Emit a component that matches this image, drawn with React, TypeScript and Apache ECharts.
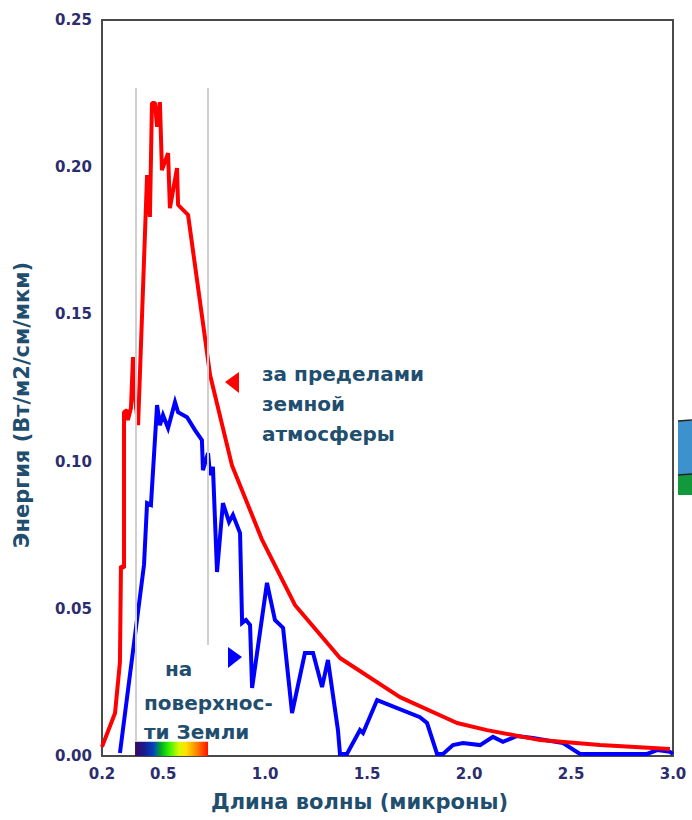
import React, { useEffect, useRef } from "react";
import * as echarts from "echarts";

// ---- Data (wavelength in microns, energy in W/m2/cm/um) ----
const outsideWavelengths = [
  0.2, 0.264, 0.288, 0.293, 0.308, 0.308, 0.323, 0.327, 0.342, 0.352, 0.362, 0.377,
  0.421, 0.435, 0.445, 0.46, 0.47, 0.484, 0.494, 0.524, 0.533, 0.568, 0.573, 0.622,
  0.666, 0.73, 0.837, 0.985, 1.146, 1.367, 1.661, 1.941, 2.088, 2.348, 2.642, 2.985,
];
const outsideValues = [
  0.0031, 0.0146, 0.0319, 0.0645, 0.0639, 0.1168, 0.1175, 0.1141, 0.1182, 0.1355, 0.1216, 0.1124,
  0.1973, 0.1831, 0.2218, 0.2218, 0.2137, 0.2221, 0.199, 0.2048, 0.1861, 0.1997, 0.1872, 0.1838,
  0.1617, 0.1294, 0.0988, 0.0734, 0.0513, 0.0333, 0.02, 0.0112, 0.0088, 0.0054, 0.0037, 0.0024,
];

const surfaceWavelengths = [
  0.288, 0.406, 0.421, 0.44, 0.47, 0.484, 0.499, 0.524, 0.558, 0.573, 0.617, 0.656,
  0.69, 0.695, 0.72, 0.73, 0.744, 0.764, 0.793, 0.823, 0.842, 0.877, 0.887, 0.906,
  0.926, 0.936, 1.009, 1.048, 1.088, 1.132, 1.195, 1.235, 1.279, 1.308, 1.357, 1.367,
  1.401, 1.465, 1.48, 1.549, 1.759, 1.794, 1.843, 1.872, 1.921, 1.97, 2.054, 2.117,
  2.166, 2.235, 2.313, 2.461, 2.544, 2.873, 2.922, 2.985, 3.0,
];
const surfaceValues = [
  0.001, 0.0649, 0.0859, 0.0853, 0.1192, 0.1124, 0.1158, 0.1114, 0.1202, 0.1168, 0.1151, 0.1107,
  0.1073, 0.0971, 0.1029, 0.0954, 0.0982, 0.0625, 0.0859, 0.0795, 0.0819, 0.0757, 0.0452, 0.0462,
  0.0445, 0.0231, 0.0588, 0.0462, 0.0435, 0.0146, 0.035, 0.035, 0.0234, 0.0326, 0.0088, 0.0007,
  0.0007, 0.0088, 0.0078, 0.019, 0.0132, 0.0112, 0.0007, 0.0007, 0.0037, 0.0044, 0.0037, 0.0065,
  0.0048, 0.0068, 0.0061, 0.0044, 0.0007, 0.0007, 0.002, 0.0014, 0.0007,
];

const xTickValues = [0.2, 0.5, 1.0, 1.5, 2.0, 2.5, 3.0];
const yMin = 0;
const yMax = 0.25;
const yInterval = 0.05;

// visible band limits (microns) and guide line extents (energy)
const visibleBand = [0.362, 0.72];
const bandHeight = 0.0048;
const guideLines = [
  { x: 0.367, from: 0.0048, to: 0.2269 },
  { x: 0.72, from: 0.0377, to: 0.2269 },
];

const FONT = '"DejaVu Sans", Verdana, sans-serif';
const LABEL_COLOR = "#2b2d6e";
const NAME_COLOR = "#1f4e6e";

export default function App() {
  const ref = useRef<HTMLDivElement>(null);

  useEffect(() => {
    if (!ref.current) return;
    const chart = echarts.init(ref.current, null, { renderer: "svg" });

    const spectrum = new echarts.graphic.LinearGradient(0, 0, 1, 0, [
      { offset: 0, color: "#3a0860" },
      { offset: 0.12, color: "#1a1a8c" },
      { offset: 0.25, color: "#0040c0" },
      { offset: 0.36, color: "#00b020" },
      { offset: 0.46, color: "#30f000" },
      { offset: 0.6, color: "#d8f800" },
      { offset: 0.7, color: "#ffe000" },
      { offset: 0.85, color: "#ff8000" },
      { offset: 1, color: "#ff1000" },
    ]);

    chart.setOption({
      animation: false,
      grid: {
        left: 102,
        right: 19,
        top: 20,
        bottom: 64,
        show: true,
        borderColor: "#4a4a4a",
        borderWidth: 2,
        backgroundColor: "transparent",
      },
      xAxis: {
        type: "value",
        min: 0.2,
        max: 3.0,
        name: "Длина волны (микроны)",
        nameLocation: "middle",
        nameGap: 35,
        nameTextStyle: {
          color: NAME_COLOR,
          fontFamily: FONT,
          fontWeight: "bold",
          fontSize: 21,
          padding: [0, 56, 0, 0],
        },
        axisLine: { show: false },
        axisTick: { show: false },
        splitLine: { show: false },
        axisLabel: {
          customValues: xTickValues,
          formatter: (v: number) => v.toFixed(1),
          color: LABEL_COLOR,
          fontFamily: FONT,
          fontWeight: "bold",
          fontSize: 15,
          margin: 10,
        },
      },
      yAxis: {
        type: "value",
        min: yMin,
        max: yMax,
        interval: yInterval,
        name: "Энергия (Вт/м2/см/мкм)",
        nameLocation: "middle",
        nameGap: 70,
        nameTextStyle: {
          color: NAME_COLOR,
          fontFamily: FONT,
          fontWeight: "bold",
          fontSize: 21,
          padding: [0, 34, 0, 0],
        },
        axisLine: { show: false },
        axisTick: { show: false },
        splitLine: { show: false },
        axisLabel: {
          formatter: (v: number) => v.toFixed(2),
          color: LABEL_COLOR,
          fontFamily: FONT,
          fontWeight: "bold",
          fontSize: 15,
          margin: 10,
        },
      },
      series: [
        {
          type: "line",
          name: "guides",
          data: [],
          z: 1,
          silent: true,
          markLine: {
            silent: true,
            symbol: "none",
            label: { show: false },
            lineStyle: { color: "#cfcfcf", width: 2, type: "solid" },
            data: guideLines.map((g) => [
              { coord: [g.x, g.to] },
              { coord: [g.x, g.from] },
            ]),
          },
          markArea: {
            silent: true,
            itemStyle: { color: spectrum },
            data: [
              [
                { coord: [visibleBand[0], 0] },
                { coord: [visibleBand[1], bandHeight] },
              ],
            ],
          },
        },
        {
          type: "line",
          name: "на поверхности Земли",
          data: surfaceWavelengths.map((w, i) => [w, surfaceValues[i]]),
          showSymbol: false,
          symbol: "none",
          z: 3,
          lineStyle: { color: "#0000ff", width: 4, join: "miter" },
        },
        {
          type: "line",
          name: "за пределами земной атмосферы",
          data: outsideWavelengths.map((w, i) => [w, outsideValues[i]]),
          showSymbol: false,
          symbol: "none",
          z: 4,
          lineStyle: { color: "#ff0000", width: 4 },
        },
      ],
      graphic: [
        {
          type: "polygon",
          shape: { points: [[225, 382], [239, 372], [239, 393]] },
          style: { fill: "#ff0000" },
        },
        {
          type: "polygon",
          shape: { points: [[242, 657], [228, 647], [228, 668]] },
          style: { fill: "#0000ff" },
        },
        {
          type: "text",
          left: 262,
          top: 359,
          style: {
            text: "за пределами\nземной\nатмосферы",
            fill: NAME_COLOR,
            font: `bold 20px ${FONT}`,
            lineHeight: 30,
          },
        },
        {
          type: "text",
          left: 165,
          top: 659,
          style: { text: "на", fill: NAME_COLOR, font: `bold 20px ${FONT}` },
        },
        {
          type: "text",
          left: 144,
          top: 688,
          style: {
            text: "поверхнос-\nти Земли",
            fill: NAME_COLOR,
            font: `bold 20px ${FONT}`,
            lineHeight: 29,
          },
        },
        {
          type: "rect",
          shape: { x: 678, y: 421, width: 14, height: 54 },
          style: { fill: "#3d91cc" },
        },
        {
          type: "rect",
          shape: { x: 678, y: 475, width: 14, height: 20 },
          style: { fill: "#12993c" },
        },
        {
          type: "line",
          shape: { x1: 678, y1: 421, x2: 692, y2: 420 },
          style: { stroke: "#222", lineWidth: 1.5 },
        },
        {
          type: "line",
          shape: { x1: 678, y1: 475, x2: 692, y2: 474 },
          style: { stroke: "#222", lineWidth: 1.5 },
        },
      ],
    });

    return () => chart.dispose();
  }, []);

  return (
    <div
      ref={ref}
      style={{ position: "fixed", left: 0, top: 0, width: 692, height: 820, background: "#fff" }}
    />
  );
}
